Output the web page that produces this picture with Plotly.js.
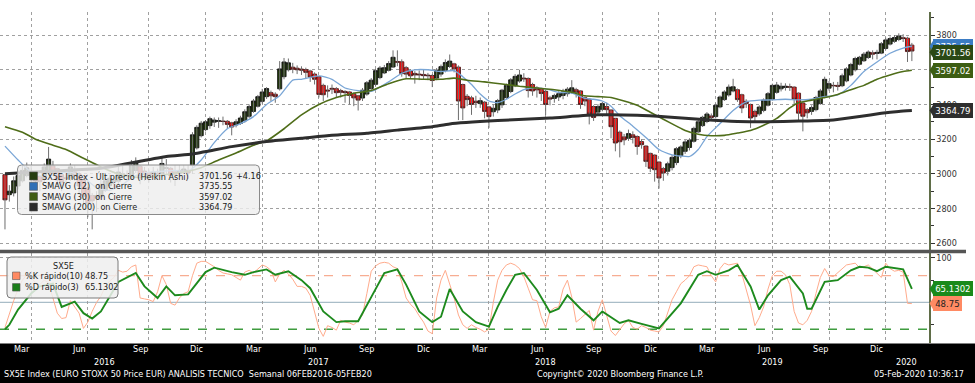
<!DOCTYPE html>
<html><head><meta charset="utf-8">
<script src="https://cdn.plot.ly/plotly-3.0.1.min.js"></script>
<style>html,body{margin:0;padding:0;background:#fff;}#chart{width:975px;height:383px;}</style>
</head><body><div id="chart"></div>
<script>
// ---------------- DATA ----------------
const firstWeek = '2016-02-12'; // weekly bars, one per week

const haOpen = [
2995,2880,2890,2930,2960,2990,3015,3005,2985,2970,
3005,3045,3030,2995,2975,2975,3010,3000,2965,2920,
2875,2860,2868,2905,2932,2955,2958,2985,2992,2990,
3020,3042,3016,3007,2998,3004,3001,3030,3032,3011,
3004,3012,3020,3050,3150,3220,3255,3278,3298,3303,
3304,3303,3294,3282,3291,3306,3332,3360,3390,3418,
3445,3468,3459,3490,3560,3600,3615,3609,3604,3601,
3593,3575,3560,3510,3483,3493,3491,3480,3475,3472,
3462,3450,3437,3460,3492,3516,3555,3582,3597,3616,
3648,3646,3612,3593,3579,3575,3573,3569,3567,3552,
3575,3596,3619,3634,3615,3515,3447,3438,3419,3405,
3413,3386,3358,3368,3398,3440,3475,3508,3535,3552,
3550,3515,3496,3490,3476,3438,3435,3443,3452,3462,
3475,3485,3478,3439,3430,3388,3356,3372,3388,3368,
3320,3240,3213,3205,3225,3215,3186,3160,3118,3108,
3068,3030,3015,3036,3065,3105,3130,3152,3188,3242,
3278,3302,3334,3330,3386,3428,3455,3478,3485,3456,
3418,3400,3360,3346,3366,3396,3430,3470,3490,3498,
3502,3500,3465,3408,3370,3360,3370,3405,3442,3494,
3510,3510,3508,3536,3570,3600,3632,3652,3671,3698,
3694,3696,3723,3748,3764,3775,3785,3782,3742];
const haClose = [
2850,2900,2960,2990,3020,3035,2995,2960,2955,3040,
3085,3010,2965,2950,2975,3040,2990,2930,2870,2830,
2845,2875,2940,2960,2975,2962,3010,3000,2988,3050,
3065,2990,2998,2990,3010,2998,3060,3035,2990,2998,
3020,3028,3005,3225,3268,3292,3300,3318,3310,3306,
3302,3285,3270,3300,3322,3358,3388,3420,3445,3472,
3492,3450,3445,3605,3645,3640,3603,3600,3598,3585,
3558,3545,3458,3456,3478,3489,3468,3470,3468,3452,
3438,3425,3482,3525,3540,3595,3610,3612,3636,3672,
3644,3578,3575,3565,3570,3571,3566,3566,3538,3598,
3618,3642,3650,3605,3420,3380,3428,3400,3410,3422,
3360,3330,3378,3422,3482,3510,3542,3562,3570,3548,
3480,3478,3484,3463,3400,3432,3452,3462,3472,3488,
3496,3470,3400,3420,3345,3325,3388,3405,3370,3272,
3178,3185,3196,3232,3210,3158,3168,3072,3032,3024,
2976,3005,3058,3095,3145,3155,3184,3194,3262,3300,
3326,3345,3325,3395,3443,3472,3500,3502,3428,3380,
3405,3322,3330,3385,3425,3462,3510,3512,3505,3505,
3500,3430,3350,3332,3352,3382,3440,3478,3545,3520,
3508,3505,3565,3605,3630,3665,3672,3690,3702,3690,
3700,3750,3772,3780,3786,3795,3780,3705,3708];
const haHigh = [
3000,2935,2985,3020,3045,3065,3045,3010,2995,3060,
3155,3075,3035,3000,3005,3060,3050,3010,2975,2960,
2890,2900,2970,2985,2995,2990,3040,3050,3020,3080,
3095,3050,3040,3025,3040,3030,3095,3085,3040,3050,
3050,3050,3050,3240,3280,3305,3310,3330,3325,3325,
3330,3310,3300,3315,3335,3372,3400,3432,3455,3490,
3500,3480,3470,3650,3668,3665,3640,3625,3620,3612,
3600,3585,3562,3520,3510,3515,3500,3490,3482,3478,
3470,3455,3495,3535,3552,3605,3622,3628,3650,3712,
3712,3660,3622,3602,3592,3596,3600,3582,3575,3610,
3630,3660,3688,3640,3625,3520,3460,3450,3450,3440,
3420,3392,3400,3432,3490,3520,3552,3575,3600,3580,
3556,3525,3505,3496,3480,3450,3462,3476,3490,3500,
3540,3496,3482,3446,3436,3395,3402,3415,3410,3372,
3322,3250,3230,3255,3245,3222,3200,3165,3122,3112,
3072,3040,3070,3108,3155,3165,3195,3205,3272,3310,
3335,3356,3348,3405,3452,3482,3515,3548,3492,3462,
3430,3405,3370,3395,3435,3472,3520,3530,3525,3522,
3520,3505,3470,3415,3380,3395,3450,3490,3560,3535,
3530,3530,3578,3615,3640,3675,3680,3702,3712,3712,
3715,3760,3785,3792,3800,3810,3805,3790,3755];
const haLow = [
2680,2840,2870,2910,2950,2980,2960,2920,2900,2950,
2995,2990,2925,2900,2930,2960,2960,2880,2820,2750,
2680,2780,2850,2895,2920,2925,2940,2975,2960,2970,
3005,2940,2960,2950,2980,2965,2995,3000,2950,2930,
2990,3000,2970,3000,3140,3210,3245,3260,3270,3265,
3280,3260,3222,3268,3282,3295,3322,3352,3382,3405,
3432,3420,3410,3480,3545,3590,3580,3575,3570,3550,
3530,3515,3440,3420,3440,3460,3440,3440,3410,3400,
3390,3365,3420,3450,3480,3505,3545,3575,3590,3610,
3620,3560,3550,3548,3520,3540,3545,3540,3500,3540,
3560,3585,3610,3585,3310,3310,3390,3340,3380,3380,
3320,3265,3330,3350,3380,3430,3465,3500,3525,3530,
3440,3450,3440,3420,3340,3395,3410,3420,3430,3445,
3460,3440,3375,3390,3285,3305,3340,3360,3345,3205,
3130,3095,3165,3190,3175,3110,3145,3040,3010,2955,
2915,2960,2990,3020,3050,3090,3115,3135,3180,3235,
3270,3292,3305,3320,3378,3420,3445,3470,3415,3350,
3380,3265,3300,3335,3355,3388,3422,3462,3475,3480,
3478,3400,3300,3245,3320,3340,3360,3398,3435,3480,
3470,3480,3500,3528,3562,3590,3625,3645,3662,3660,
3660,3690,3715,3740,3755,3765,3760,3645,3650];

// moving averages: (week index, value) pairs
const sma12Idx = [0,3,6,9,12,15,18,21,24,27,30,33,36,39,42,45,48,51,54,57,60,63,66,68,72,75,78,81,84,86,88,91,94,97,100,103,105,107,109,111,113,115,117,119,121,124,127,130,133,135,137,139,141,144,147,150,153,155,157,159,161,164,167,170,173,176,179,182,185,188,191,194,197,200,203,206,208];
const sma12Val = [3160,3080,3010,2985,3000,3010,2980,2920,2905,2940,2990,3010,3015,3020,3015,3080,3180,3260,3290,3330,3400,3450,3540,3545,3565,3545,3495,3480,3475,3500,3530,3580,3600,3600,3590,3595,3560,3515,3460,3420,3410,3430,3460,3485,3495,3490,3470,3465,3435,3430,3420,3390,3335,3275,3210,3140,3110,3103,3100,3140,3215,3290,3365,3415,3425,3426,3430,3426,3430,3445,3455,3510,3590,3645,3695,3725,3735.55];
const sma30Idx = [0,4,7,11,14,18,22,26,30,34,38,42,45,49,53,57,60,64,68,72,76,80,84,88,92,96,100,103,106,110,114,118,122,126,130,133,136,139,142,145,148,151,154,156,159,162,165,168,171,174,177,180,182,185,188,191,194,197,200,203,206,208];
const sma30Val = [3272,3240,3200,3165,3140,3090,3040,3000,2980,2985,3000,3015,3035,3080,3120,3165,3190,3260,3340,3400,3440,3465,3480,3520,3548,3545,3545,3552,3540,3530,3518,3505,3495,3485,3470,3450,3445,3440,3420,3395,3355,3315,3275,3250,3228,3220,3222,3235,3250,3280,3320,3380,3410,3425,3440,3458,3485,3510,3545,3570,3590,3597.02];
const sma200Idx = [0,10,22,37,43,52,60,68,75,83,90,98,102,113,125,136,145,152,160,168,175,182,190,196,201,205,208];
const sma200Val = [3000,3015,3032,3100,3115,3157,3186,3205,3222,3234,3252,3272,3288,3307,3322,3340,3338,3328,3313,3302,3300,3304,3311,3330,3349,3360,3364.79];

// stochastic %K (weekly) and %D (index, value)
const stochK = [
22,38,52,65,75,81,78,72,70,75,
72,55,38,32,33,52,45,38,21,28,
40,50,57,68,74,78,86,84,85,90,
92,55,54,53,51,62,80,70,49,47,
55,60,62,80,94,96,96,93,90,86,
83,82,81,78,75,84,86,83,88,92,
90,86,73,82,86,82,76,68,68,66,
58,40,21,12,24,22,19,30,28,27,
25,30,36,60,85,91,94,95,94,90,
88,73,55,48,43,35,28,18,15,55,
75,86,70,55,36,25,21,25,22,20,
17,20,50,75,86,92,94,92,88,79,
66,53,52,34,22,40,44,45,65,75,
56,28,32,36,41,19,40,53,35,18,
13,20,26,30,22,20,24,22,19,18,
17,24,38,53,62,71,75,80,90,92,
91,90,80,73,88,94,92,93,94,82,
65,47,24,33,45,65,80,85,85,81,
70,40,27,25,30,40,60,78,88,80,
79,83,88,92,93,94,89,90,92,87,
83,78,94,88,85,86,84,49,48.75];
const stochDIdx = [0,1,3,6,8,11,13,16,18,20,22,24,26,30,32,35,37,39,42,46,48,52,55,57,60,62,65,68,70,73,76,78,81,84,87,90,92,95,98,100,102,105,108,111,113,115,117,119,122,125,127,129,132,135,137,141,143,146,150,155,159,161,163,166,168,171,173,175,178,180,183,184,185,188,191,194,196,198,200,202,205,206,208];
const stochDVal = [20,25,42,60,68,71,45,51,38,32,40,56,73,83,68,55,68,58,59,84,89,84,81,84,87,81,85,75,66,40,28,29,29,56,83,87,70,40,28,34,65,40,28,23,45,64,81,83,64,39,43,58,43,30,40,27,30,26,21,49,81,85,81,86,92,68,42,58,75,79,60,43,43,73,75,86,90,89,85,90,88,87,65.13];
const stochLevels = [80, 50, 20];

// last-value tags and legend values
const mainTagVals = ['3735.55', '3701.56', '3597.02', '3364.79'];
const stochTagVals = ['65.1302', '48.75'];
const legendNames = ['SX5E Index - Últ precio (Heikin Ashi)', 'SMAVG (12)\u00a0\u00a0on Cierre', 'SMAVG (30)\u00a0\u00a0on Cierre', 'SMAVG (200)\u00a0\u00a0on Cierre'];
const legendVals = ['3701.56', '3735.55', '3597.02', '3364.79'];
const legendChange = '+4.16';
const stochNames = ['%K rápido(10)', '%D rápido(3)'];
const stochLegendVals = ['48.75', '65.1302'];

// axis labels
const priceTicks = [2600, 2800, 3000, 3200, 3400, 3600, 3800];
const priceTickText = ['2600', '2800', '3000', '3200', '3400', '', '3800']; // 3600 is covered by the 3597.02 tag
const gridDates = ['2016-03-25','2016-06-24','2016-09-30','2016-12-30','2017-03-31','2017-06-30','2017-09-29','2017-12-29','2018-03-30','2018-06-29','2018-09-28','2018-12-28','2019-03-29','2019-06-28','2019-09-27','2019-12-27'];
const monthLabels = ['Mar','Jun','Sep','Dic','Mar','Jun','Sep','Dic','Mar','Jun','Sep','Dic','Mar','Jun','Sep','Dic'];
const monthLabelDates = ['2016-03-11','2016-06-10','2016-09-16','2016-12-16','2017-03-17','2017-06-16','2017-09-15','2017-12-15','2018-03-16','2018-06-15','2018-09-14','2018-12-14','2019-03-15','2019-06-14','2019-09-13','2019-12-13'];
const yearLabels = ['2016','2017','2018','2019','2020'];
const yearLabelDates = ['2016-07-20','2017-06-30','2018-06-29','2019-06-28','2020-01-30'];
const footerLeft = 'SX5E Index (EURO STOXX 50 Price EUR) ANALISIS TECNICO\u00a0\u00a0Semanal 06FEB2016-05FEB20';
const footerMid = 'Copyright© 2020 Bloomberg Finance L.P.';
const footerRight = '05-Feb-2020 10:36:17';

// ---------------- BUILD ----------------
const dayMs = 86400000;
const t0 = Date.parse(firstWeek + 'T00:00:00Z');
const weeks = haClose.map((_, i) => new Date(t0 + i * 7 * dayMs).toISOString().slice(0, 10));
const atIdx = idx => idx.map(i => weeks[i]);

// wick segments (gray) drawn separately; bodies drawn by the candlestick trace
const wickX = [], wickY = [];
weeks.forEach((w, i) => { wickX.push(w, w, null); wickY.push(haLow[i], haHigh[i], null); });
const bodyTop = haOpen.map((o, i) => Math.max(o, haClose[i]));
const bodyBot = haOpen.map((o, i) => Math.min(o, haClose[i]));

const FONT = 'DejaVu Sans Condensed, DejaVu Sans, sans-serif';
const PW = 929, PH = 331, TOP = 12;
const fx = px => px / PW;
const fy = py => (TOP + PH - py) / PH;
const mainRange = [2561, 3933];
const stochRange = [4.6, 105.4];
const mainUPP = (mainRange[1] - mainRange[0]) / 238;
const stochUPP = (stochRange[1] - stochRange[0]) / 90;

const traces = [
  {type:'scatter', mode:'lines', x: wickX, y: wickY, xaxis:'x', yaxis:'y', connectgaps:false,
   line:{color:'#6e6e6e', width:1}, showlegend:false, hoverinfo:'skip'},
  {type:'candlestick', x: weeks, open: haOpen, high: bodyTop, low: bodyBot, close: haClose,
   xaxis:'x', yaxis:'y', whiskerwidth:0,
   increasing:{line:{color:'#151515', width:0.9}, fillcolor:'#22390b'},
   decreasing:{line:{color:'#4a1a1a', width:0.9}, fillcolor:'#ff1010'},
   showlegend:false, hoverinfo:'skip'},
  {type:'scatter', mode:'lines', x: atIdx(sma12Idx), y: sma12Val, xaxis:'x', yaxis:'y',
   line:{color:'#7aa6d6', width:1.3, shape:'spline', smoothing:0.6}, showlegend:false},
  {type:'scatter', mode:'lines', x: atIdx(sma30Idx), y: sma30Val, xaxis:'x', yaxis:'y',
   line:{color:'#4f6d19', width:1.6, shape:'spline', smoothing:0.6}, showlegend:false},
  {type:'scatter', mode:'lines', x: atIdx(sma200Idx), y: sma200Val, xaxis:'x', yaxis:'y',
   line:{color:'#2e2e2e', width:3, shape:'spline', smoothing:0.5}, showlegend:false},
  {type:'scatter', mode:'lines', x: weeks, y: stochK, xaxis:'x2', yaxis:'y2',
   line:{color:'#ffab8c', width:1}, showlegend:false},
  {type:'scatter', mode:'lines', x: atIdx(stochDIdx), y: stochDVal, xaxis:'x2', yaxis:'y2',
   line:{color:'#1d8a1d', width:1.9}, showlegend:false}
];

const shapes = [];
const annotations = [];

// level lines of the oscillator
const levelStyles = [{color:'#f7ad92', dash:'dash'}, {color:'#a9bdc8', dash:'solid'}, {color:'#3f9c3f', dash:'dash'}];
stochLevels.forEach((v, k) => shapes.push({type:'line', xref:'paper', yref:'y2', x0:0, x1:1, y0:v, y1:v,
  line:{color:levelStyles[k].color, width:1.3, dash:levelStyles[k].dash}, layer:'below'}));

// separator bar and bottom black band
shapes.push({type:'rect', xref:'paper', yref:'paper', x0:0, x1:fx(966), y0:fy(253.3), y1:fy(249.7), fillcolor:'#555', line:{width:0}, layer:'above'});
shapes.push({type:'rect', xref:'paper', yref:'paper', x0:0, x1:fx(975), y0:fy(384), y1:fy(343.5), fillcolor:'#000', line:{width:0}, layer:'above'});

function roundRect(x0, y0, x1, y1, r, fill, stroke) {
  const X = fx, Y = fy;
  const p = `M ${X(x0+r)},${Y(y0)} L ${X(x1-r)},${Y(y0)} Q ${X(x1)},${Y(y0)} ${X(x1)},${Y(y0+r)} L ${X(x1)},${Y(y1-r)} Q ${X(x1)},${Y(y1)} ${X(x1-r)},${Y(y1)} L ${X(x0+r)},${Y(y1)} Q ${X(x0)},${Y(y1)} ${X(x0)},${Y(y1-r)} L ${X(x0)},${Y(y0+r)} Q ${X(x0)},${Y(y0)} ${X(x0+r)},${Y(y0)} Z`;
  shapes.push({type:'path', xref:'paper', yref:'paper', path:p, fillcolor:fill, line:{color:stroke, width:1}, layer:'above'});
}
function square(x0, yc, s, color) {
  shapes.push({type:'rect', xref:'paper', yref:'paper', x0:fx(x0), x1:fx(x0+s), y0:fy(yc+s/2), y1:fy(yc-s/2), fillcolor:color, line:{color:'#555', width:0.6}, layer:'above'});
}
function txt(text, xpx, ypx, anchor, size, color) {
  annotations.push({xref:'paper', yref:'paper', x:fx(xpx), y:fy(ypx), text:text, showarrow:false,
    xanchor:anchor, yanchor:'middle', font:{family:FONT, size:size, color:color}});
}

// main legend
roundRect(17.5, 165, 259.5, 214.5, 4, 'rgba(238,238,238,0.82)', '#8a8a8a');
const legendColors = ['#263d10', '#2f6fb6', '#3f5c12', '#2b2b2b'];
const legendRowsY = [176, 186.3, 196.6, 207];
legendNames.forEach((n, k) => {
  square(29.5, legendRowsY[k], 8, legendColors[k]);
  txt(n, 39.5, legendRowsY[k], 'left', 9, '#1b1b1b');
  txt(legendVals[k], 197, legendRowsY[k], 'left', 9, '#1b1b1b');
});
txt(legendChange, 234, legendRowsY[0], 'left', 9, '#1b1b1b');

// oscillator legend
roundRect(7, 257, 118, 298, 4, 'rgba(238,238,238,0.85)', '#7a7a7a');
txt('SX5E', 63, 265.7, 'center', 9, '#1b1b1b');
const stochColors = ['#ff8a63', '#1a7e1a'];
const stochRowsY = [275.8, 287.3];
stochNames.forEach((n, k) => {
  square(12.5, stochRowsY[k], 7.5, stochColors[k]);
  txt(n, 23, stochRowsY[k], 'left', 9, '#1b1b1b');
  txt(stochLegendVals[k], 83, stochRowsY[k], 'left', 9, '#1b1b1b');
});

// last-value tags on the right axes
function tag(valStr, yref, upp, bg, fg) {
  const v = parseFloat(valStr);
  const h = 6.3 * upp;
  shapes.push({type:'path', xref:'paper', yref:yref,
    path:`M ${fx(929.5)},${v} L ${fx(933.5)},${v + h} L ${fx(933.5)},${v - h} Z`,
    fillcolor:bg, line:{width:0}, layer:'above'});
  annotations.push({xref:'paper', yref:yref, x:fx(933), y:v, text:valStr, showarrow:false,
    xanchor:'left', yanchor:'middle', bgcolor:bg, bordercolor:bg, borderpad:1.2,
    font:{family:FONT, size:9.5, color:fg}});
}
const mainTagColors = ['#3b7cc4', '#2b4915', '#3d5e13', '#2e2e2e'];
mainTagVals.forEach((v, k) => tag(v, 'y', mainUPP, mainTagColors[k], '#ffffff'));
const stochTagColors = ['#1a8a1a', '#ff8a63'];
const stochTagText = ['#ffffff', '#222222'];
stochTagVals.forEach((v, k) => tag(v, 'y2', stochUPP, stochTagColors[k], stochTagText[k]));

// bottom axis labels
monthLabels.forEach((m, k) => annotations.push({xref:'x', yref:'paper', x:monthLabelDates[k], y:fy(349), text:m,
  showarrow:false, xanchor:'center', yanchor:'middle', font:{family:FONT, size:9, color:'#ffffff'}}));
yearLabels.forEach((yv, k) => annotations.push({xref:'x', yref:'paper', x:yearLabelDates[k], y:fy(361.5), text:yv,
  showarrow:false, xanchor:'center', yanchor:'middle', font:{family:FONT, size:9, color:'#ffffff'}}));
txt(footerLeft, 2, 373.8, 'left', 9, '#ffffff');
txt(footerMid, 535, 373.8, 'left', 9, '#ffffff');
txt(footerRight, 966, 373.8, 'right', 9, '#ffffff');

const xRange = ['2016-02-04', '2020-03-05 12:00'];
const xCommon = {type:'date', range:xRange, tickmode:'array', tickvals:gridDates, showticklabels:false, ticks:'',
  showgrid:true, gridcolor:'#a0a0a0', griddash:'dot', gridwidth:1, zeroline:false, showline:false, fixedrange:true};

const layout = {
  width:975, height:383,
  margin:{l:0, r:46, t:TOP, b:40, pad:0},
  paper_bgcolor:'#ffffff', plot_bgcolor:'#ffffff',
  showlegend:false, hovermode:false,
  boxgap:0.06, boxgroupgap:0,
  font:{family:FONT, size:9, color:'#333'},
  xaxis:Object.assign({}, xCommon, {anchor:'y', domain:[0,1], rangeslider:{visible:false}}),
  xaxis2:Object.assign({}, xCommon, {anchor:'y2', domain:[0,1], matches:'x'}),
  yaxis:{domain:[fy(250), 1], range:mainRange, side:'right', anchor:'x',
    tickmode:'array', tickvals:priceTicks, ticktext:priceTickText, ticks:'outside', ticklen:4, tickcolor:'#333',
    tickfont:{family:FONT, size:9, color:'#333'},
    minor:{tick0:2600, dtick:100, ticks:'outside', ticklen:3, tickcolor:'#333', showgrid:false},
    showgrid:true, gridcolor:'#a0a0a0', griddash:'dot', gridwidth:1,
    showline:true, linecolor:'#5f6d48', linewidth:1.5, zeroline:false, fixedrange:true},
  yaxis2:{domain:[0, fy(253)], range:stochRange, side:'right', anchor:'x2',
    tickmode:'array', tickvals:[100], ticks:'outside', ticklen:4, tickcolor:'#333',
    tickfont:{family:FONT, size:9, color:'#333'},
    minor:{tickvals:[25,50,75], ticks:'outside', ticklen:3, tickcolor:'#333', showgrid:false},
    showgrid:true, gridcolor:'#a0a0a0', griddash:'dot', gridwidth:1,
    showline:true, linecolor:'#5f6d48', linewidth:1.5, zeroline:false, fixedrange:true},
  shapes:shapes,
  annotations:annotations
};

Plotly.newPlot('chart', traces, layout, {staticPlot:true, displayModeBar:false});
</script></body></html>
